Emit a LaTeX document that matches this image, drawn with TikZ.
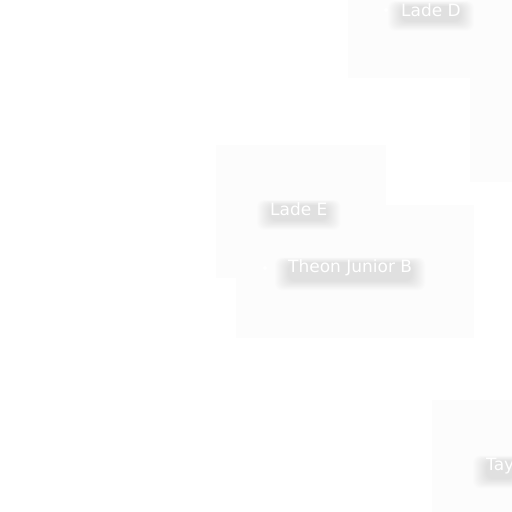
\documentclass[tikz,border=0pt]{standalone}
\usepackage{fontspec}
\setmainfont{DejaVu Sans}
\usetikzlibrary{positioning,calc,backgrounds}

\begin{document}
\begin{tikzpicture}[x=1pt, y=1pt,
  panel/.style={fill=black!1.2, draw=none},
  lbl/.style={text=white, inner sep=0pt, font=\fontsize{17}{19}\selectfont},
  haze/.style={fill=black, opacity=0.008, rounded corners=7pt},
  pip/.style={circle, fill=white, inner sep=0pt, minimum size=4pt}]

  % Canvas and faint panels
  \begin{scope}[on background layer]
    \fill[white] (0,0) rectangle (512,-512);
    \fill[panel] (348,0) rectangle (512,-78);
    \fill[panel] (470,-50) rectangle (512,-182);
    \fill[panel] (216,-145) rectangle (386,-278);
    \fill[panel] (236,-205) rectangle (474,-338);
    \fill[panel] (432,-400) rectangle (512,-512);
  \end{scope}
  \useasboundingbox (0,0) rectangle (512,-512);

  % Labels
  \node[lbl, anchor=west] (ladeD) at (401,-10) {Lade D};
  \node[lbl, anchor=west] (ladeE) at (270,-209) {Lade E};
  \node[lbl, anchor=west] (theonB) at (288,-268) {Theon Junior B};
  \node[lbl, anchor=west] (tay) at (486,-466) {Tay};

  % Small markers
  \node[pip] (dotD) at (386,-10) {};
  \node[pip] (dotB) at (265,-268) {};

  % Soft shadows under the labels
  \begin{scope}[on background layer]
    \foreach \n in {ladeD,ladeE,theonB,tay} {
      \foreach \r in {0,1,...,13} {
        \fill[haze] ($(\n.south west)+(-\r,-5-0.7*\r)$)
          rectangle ($(\n.north east)+(\r,-3+0.4*\r)$);
      }
    }
  \end{scope}
\end{tikzpicture}
\end{document}
